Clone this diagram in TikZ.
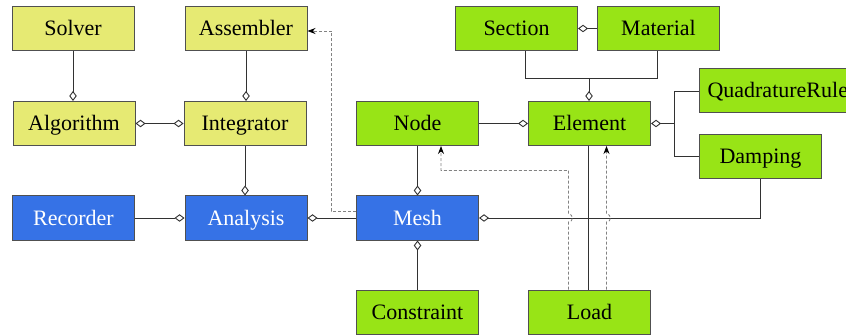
\documentclass[tikz,border=0pt]{standalone}
\usepackage{fontspec}
\setmainfont{Liberation Serif}
\usetikzlibrary{arrows.meta}
\definecolor{ylw}{RGB}{230,234,115}
\definecolor{grn}{RGB}{152,228,22}
\definecolor{blu}{RGB}{54,114,230}
\definecolor{bord}{RGB}{80,80,80}
\definecolor{conn}{RGB}{50,50,50}
\definecolor{dsh}{RGB}{130,130,130}
\begin{document}
\begin{tikzpicture}[x=1pt,y=1pt,
  box/.style={draw=bord, line width=1pt, minimum width=122pt, minimum height=44pt,
    inner sep=8pt, text height=16pt, text depth=2pt, font=\fontsize{22}{26}\selectfont\rmfamily},
  ybox/.style={box, fill=ylw, text=black},
  gbox/.style={box, fill=grn, text=black},
  bbox/.style={box, fill=blu, text=white},
  conline/.style={draw=conn, line width=0.9pt},
  agg/.style={conline, -{Diamond[open, fill=white, length=10pt, width=7.5pt]}},
  aggboth/.style={conline, {Diamond[open, fill=white, length=10pt, width=7.5pt]}-{Diamond[open, fill=white, length=10pt, width=7.5pt]}},
  aggstart/.style={conline, {Diamond[open, fill=white, length=10pt, width=7.5pt]}-},
  dep/.style={draw=dsh, line width=0.8pt, dash pattern=on 3pt off 2pt, -{Stealth[length=8pt, width=6pt, color=black]}}
]
\useasboundingbox (0,0) rectangle (846,335);

\node[ybox] (solver) at (73,306.5) {Solver};
\node[ybox] (assembler) at (246,306.5) {Assembler};
\node[ybox] (algorithm) at (74,211.5) {Algorithm};
\node[ybox] (integrator) at (245,211.5) {Integrator};
\node[bbox] (recorder) at (73.5,117) {Recorder};
\node[bbox] (analysis) at (246,117) {Analysis};
\node[bbox] (mesh) at (417.5,117) {Mesh};
\node[gbox] (nodebox) at (417.5,211.5) {Node};
\node[gbox] (constraint) at (417.5,23) {Constraint};
\node[gbox] (section) at (516.5,306.5) {Section};
\node[gbox] (material) at (658.5,306.5) {Material};
\node[gbox] (element) at (589.5,211.5) {Element};
\node[gbox, anchor=west] (quad) at (699,244) {QuadratureRule};
\node[gbox] (damping) at (760.5,178.5) {Damping};
\node[gbox] (load) at (589.5,23) {Load};

\coordinate (secbend) at (525.5,257);
\coordinate (matbend) at (657,257);
\coordinate (elbend) at (589,257);
\coordinate (qbranch) at (674.5,211.5);
\coordinate (dampbend) at (760.5,117);
\coordinate (meshdash) at (331,123.5);
\coordinate (asmdash) at (331,304);
\coordinate (loadbendA) at (568.5,164.5);
\coordinate (loadbendB) at (441,164.5);

% aggregation connectors
\draw[agg] (solver.south) -- (solver.south |- algorithm.north);
\draw[aggboth] (algorithm.east) -- (integrator.west);
\draw[agg] (assembler.south) -- (assembler.south |- integrator.north);
\draw[agg] (integrator.south) -- (integrator.south |- analysis.north);
\draw[agg] (recorder.east) -- (analysis.west);
\draw[agg] (mesh.west) -- (analysis.east);
\draw[agg] (nodebox.south) -- (mesh.north);
\draw[agg] (constraint.north) -- (mesh.south);
\draw[agg] (nodebox.east) -- (element.west);
\draw[agg] (material.west) -- (section.east);
\draw[conline] (secbend |- section.south) -- (secbend) -- (matbend) -- (matbend |- material.south);
\draw[agg] (elbend) -- (elbend |- element.north);
\draw[aggstart] (element.east) -- (qbranch);
\draw[conline] (quad.west) -| (qbranch) |- (damping.west);
\draw[agg] (damping.south) -- (dampbend) -- (mesh.east);
\draw[conline] (588.5,0 |- load.north) -- (588.5,0 |- element.south);

% dependency connectors
\draw[dep] ([yshift=6.5pt]mesh.west) -- (meshdash) -- (asmdash) -- (asmdash -| assembler.east);
\draw[dep] (568.5,0 |- load.north) -- (568.5,113) arc[start angle=-90, end angle=90, radius=4] -- (loadbendA) -- (loadbendB) -- (loadbendB |- nodebox.south);
\draw[dep] (606.5,0 |- load.north) -- (606.5,113) arc[start angle=-90, end angle=90, radius=4] -- (606.5,0 |- element.south);
\end{tikzpicture}
\end{document}
